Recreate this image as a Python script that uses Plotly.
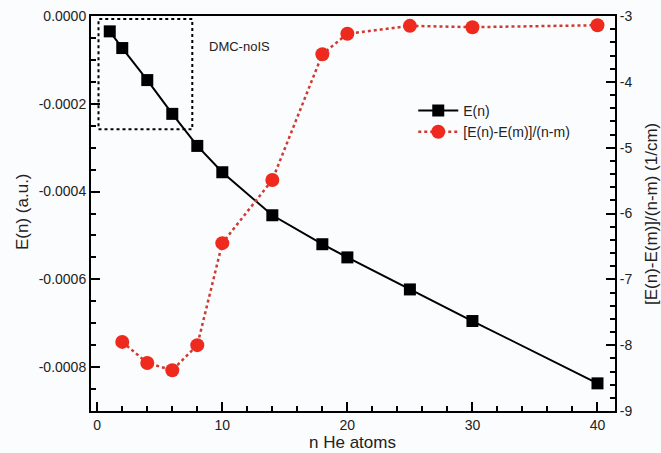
import plotly.graph_objects as go

# Data
n_E = [1, 2, 4, 6, 8, 10, 14, 18, 20, 25, 30, 40]
E_n = [-0.000035, -0.000073, -0.000146, -0.000223, -0.000296, -0.000356,
       -0.000454, -0.000520, -0.000550, -0.000623, -0.000695, -0.000837]

n_D = [2, 4, 6, 8, 10, 14, 18, 20, 25, 30, 40]
D_n = [-7.95, -8.27, -8.38, -8.00, -6.45, -5.49, -3.58, -3.27, -3.15, -3.17, -3.14]

x_ticks = [0, 10, 20, 30, 40]
y1_ticks = [0.0, -0.0002, -0.0004, -0.0006, -0.0008]
y1_text = ["0.0000", "-0.0002", "-0.0004", "-0.0006", "-0.0008"]
y2_ticks = [-3, -4, -5, -6, -7, -8, -9]
y2_text = ["-3", "-4", "-5", "-6", "-7", "-8", "-9"]

FONT = "Liberation Sans, Arial, Helvetica, sans-serif"
BG = "#fbfcfe"

fig = go.Figure()
fig.add_trace(go.Scatter(
    x=n_E, y=E_n, name="E(n)", mode="lines+markers",
    line=dict(color="black", width=2),
    marker=dict(symbol="square", size=12, color="black"),
    yaxis="y"))
fig.add_trace(go.Scatter(
    x=n_D, y=D_n, name="[E(n)-E(m)]/(n-m)", mode="lines+markers",
    line=dict(color="#cf3a30", width=2.5, dash="dot"),
    marker=dict(symbol="circle", size=14, color="#ee2a1e"),
    yaxis="y2"))

axis_common = dict(showgrid=False, zeroline=False, showline=True,
                   linecolor="black", linewidth=2, ticks="inside",
                   tickcolor="black", tickwidth=2, ticklen=9,
                   tickfont=dict(family=FONT, size=14, color="#222"))

fig.update_layout(
    width=661, height=453,
    margin=dict(l=91, r=46, t=16, b=42, autoexpand=False),
    paper_bgcolor=BG, plot_bgcolor=BG,
    font=dict(family=FONT, size=14, color="#222"),
    xaxis=dict(range=[-0.5, 41.4], tickvals=x_ticks, mirror=True,
               minor=dict(dtick=2, tick0=0, ticks="inside", ticklen=5,
                          tickwidth=1.5, tickcolor="black"),
               automargin=False, **axis_common),
    yaxis=dict(range=[-0.0009, 0.0], tickvals=y1_ticks, ticktext=y1_text,
               minor=dict(dtick=0.00005, tick0=0, ticks="inside", ticklen=5,
                          tickwidth=1.5, tickcolor="black"),
               automargin=False, **axis_common),
    yaxis2=dict(range=[-9, -3], tickvals=y2_ticks, ticktext=y2_text,
                overlaying="y", side="right",
                minor=dict(dtick=0.2, tick0=-9, ticks="inside", ticklen=5,
                           tickwidth=1.5, tickcolor="black"),
                automargin=False, **axis_common),
    legend=dict(x=0.615, y=0.8, xanchor="left", yanchor="top",
                bgcolor="rgba(0,0,0,0)", font=dict(family=FONT, size=14, color="#222"),
                tracegroupgap=0, itemwidth=40),
    showlegend=True,
)

fig.add_shape(type="rect", xref="x", yref="y", x0=0.1, x1=7.6,
              y0=-0.000258, y1=-0.000007,
              line=dict(color="black", width=2, dash="dot"))


def ann(text, px, py, size, angle=0):
    fig.add_annotation(text=text, xref="paper", yref="paper",
                       x=(px - 91) / 524, y=(411 - py) / 395,
                       xanchor="center", yanchor="middle", showarrow=False,
                       textangle=angle,
                       font=dict(family=FONT, size=size, color="#222"))


ann("DMC-noIS", 239, 47, 13)
ann("n He atoms", 352, 442, 17)
ann("E(n) (a.u.)", 22, 212, 17, -90)
ann("[E(n)-E(m)]/(n-m) (1/cm)", 651, 214, 17, -90)

fig.write_html("out.html")
